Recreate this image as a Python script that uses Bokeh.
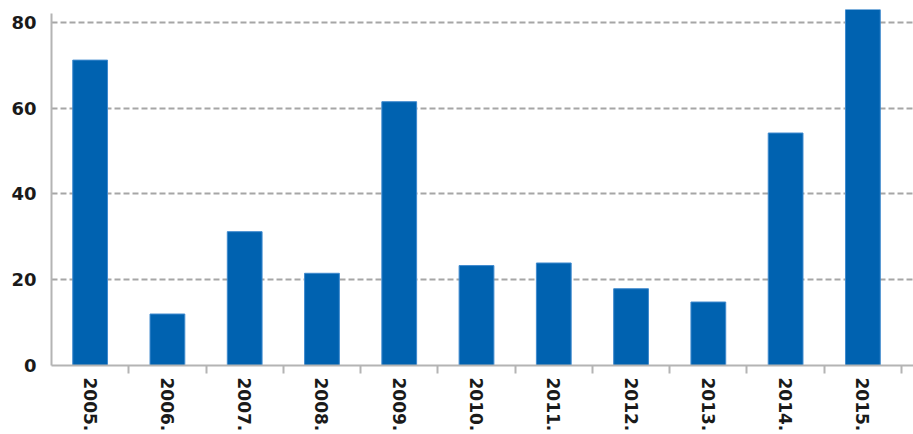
from bokeh.plotting import figure
from bokeh.models import Range1d, FixedTicker, ColumnDataSource
from bokeh.embed import file_html
from bokeh.resources import INLINE

years = ["2005.", "2006.", "2007.", "2008.", "2009.", "2010.", "2011.", "2012.", "2013.", "2014.", "2015."]
values = [71.2, 12.0, 31.2, 21.5, 61.5, 23.3, 23.9, 17.9, 14.8, 54.2, 83.0]
y_ticks = [0, 20, 40, 60, 80]

n = len(years)
centers = [i + 0.5 for i in range(n)]
src = ColumnDataSource(dict(x=centers, top=values, label=years))

p = figure(width=913, height=434, output_backend="svg", toolbar_location=None,
           x_range=Range1d(0, n + 0.155), y_range=Range1d(0, 83),
           min_border_left=51, min_border_right=0, min_border_top=9, min_border_bottom=0)
p.outline_line_color = None
p.background_fill_color = "white"

p.vbar(x="x", top="top", width=0.45, bottom=0, source=src,
       fill_color="#0062b0", line_color="#3f8ace", line_width=1)

font = "DejaVu Sans"

# x axis
xa = p.xaxis[0]
xa.ticker = FixedTicker(ticks=centers, minor_ticks=[float(i) for i in range(1, n + 1)])
xa.major_label_overrides = {c: y for c, y in zip(centers, years)}
xa.major_label_orientation = "vertical"
xa.major_tick_out = 0
xa.major_tick_in = 0
xa.minor_tick_out = 8
xa.minor_tick_in = 0
xa.minor_tick_line_color = "#b4b4b4"
xa.minor_tick_line_width = 2
xa.axis_line_color = "#b4b4b4"
xa.axis_line_width = 2
xa.major_label_standoff = 4
xa.major_label_text_font = font
xa.major_label_text_font_style = "bold"
xa.major_label_text_font_size = "17px"
xa.major_label_text_color = "#1a1a1a"

# y axis
ya = p.yaxis[0]
ya.ticker = FixedTicker(ticks=y_ticks)
ya.bounds = (0, 82)
ya.major_tick_out = 0
ya.major_tick_in = 0
ya.minor_tick_line_color = None
ya.axis_line_color = "#b4b4b4"
ya.axis_line_width = 2
ya.major_label_standoff = 15
ya.major_label_text_font = font
ya.major_label_text_font_style = "bold"
ya.major_label_text_font_size = "18px"
ya.major_label_text_color = "#1a1a1a"

p.xgrid.grid_line_color = None
p.ygrid.grid_line_color = "#a6a6a6"
p.ygrid.grid_line_width = 2
p.ygrid.grid_line_dash = "6 3"

open("out.html", "w").write(file_html(p, INLINE))
